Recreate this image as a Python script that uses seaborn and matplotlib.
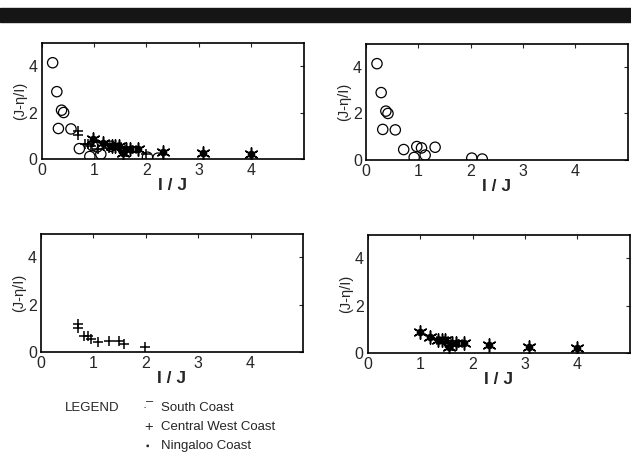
import seaborn as sns
import pandas as pd
import matplotlib.pyplot as plt
from matplotlib.patches import Rectangle

# South Coast (open circles)
south_x = [0.21, 0.29, 0.38, 0.42, 0.32, 0.56, 0.72, 0.92, 0.97, 1.06, 1.13, 1.32, 2.02, 2.22]
south_y = [4.15, 2.90, 2.10, 2.00, 1.31, 1.29, 0.44, 0.10, 0.57, 0.51, 0.20, 0.54, 0.07, 0.03]

# Central West Coast (plus)
cwc_x = [0.70, 0.70, 0.82, 0.89, 0.95, 1.08, 1.29, 1.49, 1.59, 1.99]
cwc_y = [1.19, 1.01, 0.66, 0.66, 0.55, 0.42, 0.45, 0.45, 0.34, 0.21]

# Ningaloo Coast (asterisk)
nin_x = [0.99, 1.18, 1.34, 1.41, 1.47, 1.55, 1.61, 1.68, 1.84, 2.31, 3.08, 4.00]
nin_y = [0.87, 0.67, 0.56, 0.56, 0.56, 0.24, 0.42, 0.42, 0.42, 0.31, 0.24, 0.21]

x_ticks = [0, 1, 2, 3, 4]
y_ticks = [0, 2, 4]

south = pd.DataFrame({'x': south_x, 'y': south_y})
cwc = pd.DataFrame({'x': cwc_x, 'y': cwc_y})
nin = pd.DataFrame({'x': nin_x, 'y': nin_y})


def draw_south(ax):
    sns.scatterplot(data=south, x='x', y='y', ax=ax, marker='o', s=55,
                    facecolor='none', edgecolor='black', linewidth=0.9)


def draw_cwc(ax):
    sns.scatterplot(data=cwc, x='x', y='y', ax=ax, marker='+', s=55,
                    color='black', linewidth=1.1)


def draw_nin(ax):
    sns.scatterplot(data=nin, x='x', y='y', ax=ax, marker='o', s=30,
                    color='black', linewidth=0)
    sns.scatterplot(data=nin, x='x', y='y', ax=ax, marker=(6, 2, 0), s=90,
                    color='black', linewidth=1.1)


def style_axes(ax):
    ax.set_xlim(0, 5)
    ax.set_ylim(0, 5)
    ax.set_xticks(x_ticks)
    ax.set_yticks(y_ticks)
    ax.tick_params(direction='in', length=3, width=0.8, top=True, right=True,
                   labelsize=11.5, pad=3)
    for sp in ax.spines.values():
        sp.set_linewidth(1.2)
        sp.set_color('black')
    ax.set_xlabel('I / J', fontsize=12.5, fontweight='bold', labelpad=0)
    ax.set_ylabel('(J-\u03b7/I)', fontsize=10.5, labelpad=1)


def main():
    sns.set_style('white')
    plt.rcParams['font.family'] = ['Liberation Sans', 'DejaVu Sans']

    fig = plt.figure(figsize=(6.31, 4.63), dpi=100)
    fig.patches.append(Rectangle((0, 1 - 22 / 463), 1, 14 / 463,
                                 transform=fig.transFigure, color='#151515'))

    ax_all = fig.add_axes([0.066, 0.657, 0.415, 0.250])
    ax_sc = fig.add_axes([0.580, 0.655, 0.415, 0.250])
    ax_cw = fig.add_axes([0.065, 0.240, 0.415, 0.255])
    ax_ng = fig.add_axes([0.583, 0.238, 0.415, 0.255])

    draw_south(ax_all)
    draw_cwc(ax_all)
    draw_nin(ax_all)
    draw_south(ax_sc)
    draw_cwc(ax_cw)
    draw_nin(ax_ng)

    for ax in [ax_all, ax_sc, ax_cw, ax_ng]:
        style_axes(ax)

    fig.text(65 / 631, 1 - 408 / 463, 'LEGEND', fontsize=9.5, va='center')
    fig.text(143 / 631, 1 - 408 / 463, '\u00b7\u00af', fontsize=9, va='center')
    fig.text(144 / 631, 1 - 427 / 463, '+', fontsize=10.5, va='center')
    fig.text(145 / 631, 1 - 446 / 463, '\u25aa', fontsize=7, va='center')
    fig.text(161 / 631, 1 - 408 / 463, 'South Coast', fontsize=9.5, va='center')
    fig.text(161 / 631, 1 - 427 / 463, 'Central West Coast', fontsize=9.5, va='center')
    fig.text(161 / 631, 1 - 446 / 463, 'Ningaloo Coast', fontsize=9.5, va='center')

    plt.savefig('out.png', dpi=100)


if __name__ == "__main__":
    main()
